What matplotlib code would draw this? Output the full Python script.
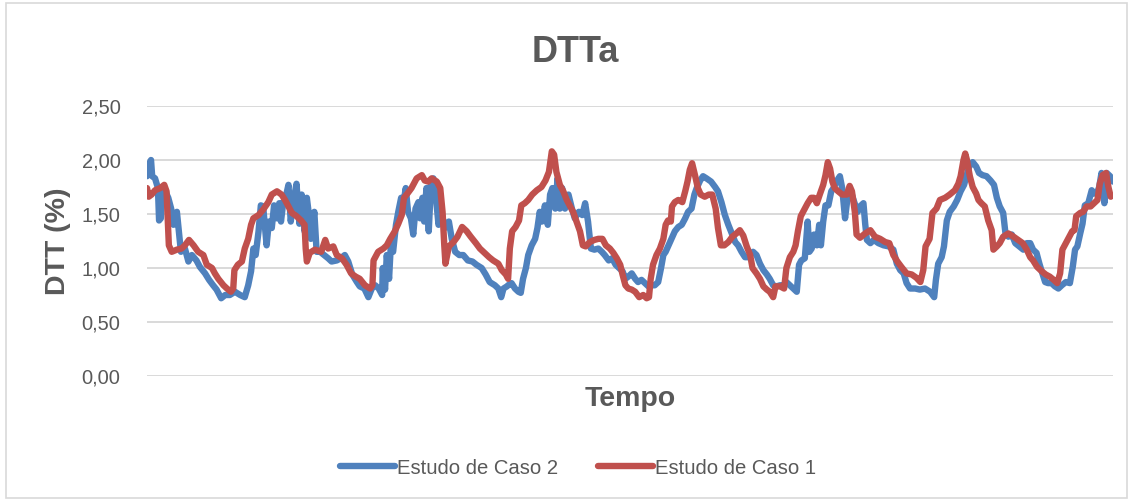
import matplotlib
matplotlib.use("Agg")
import matplotlib.pyplot as plt
from matplotlib.patches import Rectangle

# ---------------- data (time in hours, DTT in %) ----------------
t_caso2 = [0.0, 0.3, 0.7, 0.9, 1.4, 1.9, 2.1, 2.4, 2.7, 3.1, 3.7, 4.2, 4.6, 5.2, 5.6, 5.9,
           6.6, 7.2, 7.8, 8.6, 9.2, 10.1, 10.8, 11.5, 12.1, 12.9, 13.6, 14.4, 15.3, 16.2, 17.0,
           17.6, 18.1, 18.5, 18.9, 19.4, 19.8, 20.2, 20.8, 21.2, 21.7, 22.1, 22.6, 23.0, 23.3,
           23.7, 24.1, 24.6, 25.0, 25.4, 26.0, 26.5, 26.9, 27.4, 27.8, 28.1, 28.5, 29.1, 29.5,
           30.1, 30.8, 31.5, 32.1, 33.0, 33.7, 34.4, 35.0, 35.7, 36.5, 37.0, 37.8, 38.5, 39.1,
           39.7, 40.3, 40.9, 41.0, 41.4, 41.7, 42.1, 42.4, 42.8, 43.3, 43.7, 44.2, 44.6, 45.0,
           45.4, 45.9, 46.3, 46.7, 47.2, 47.5, 47.9, 48.2, 48.6, 49.0, 49.4, 49.8, 50.2, 50.7,
           51.2, 51.8, 52.5, 53.0, 53.6, 54.3, 55.0, 55.8, 56.6, 57.3, 58.2, 58.9, 59.6, 60.5,
           61.1, 61.6, 62.0, 62.6, 62.8, 63.4, 64.0, 64.6, 65.0, 65.4, 65.9, 66.3, 66.9, 67.5,
           67.9, 68.3, 68.7, 69.2, 69.7, 70.1, 70.5, 71.0, 71.4, 71.8, 72.2, 72.7, 73.3, 73.9,
           74.4, 75.1, 75.7, 76.2, 76.7, 77.2, 77.8, 78.5, 79.1, 79.6, 80.3, 80.9, 81.5, 82.1,
           82.7, 83.2, 83.7, 84.3, 84.9, 85.4, 86.0, 86.6, 87.2, 87.8, 88.3, 88.9, 89.4, 89.8,
           90.2, 90.7, 91.2, 91.8, 92.4, 93.0, 93.6, 94.1, 94.7, 95.2, 95.6, 96.2, 96.7, 97.3,
           98.1, 98.8, 99.3, 99.9, 100.5, 101.1, 101.7, 102.3, 102.8, 103.4, 104.0, 104.6, 105.4,
           106.0, 106.6, 107.2, 107.8, 108.3, 108.9, 109.5, 110.1, 110.7, 111.2, 111.8, 112.4,
           113.0, 113.4, 113.8, 114.4, 114.9, 115.2, 115.6, 116.0, 116.5, 116.9, 117.2, 117.6,
           118.0, 118.5, 119.0, 119.4, 119.9, 120.5, 120.9, 121.4, 121.9, 122.4, 123.0, 123.6,
           124.0, 124.6, 124.9, 125.2, 125.8, 126.4, 127.2, 128.1, 129.0, 129.8, 130.4, 131.0,
           131.6, 132.1, 132.7, 133.6, 134.4, 135.3, 136.2, 136.9, 137.2, 137.6, 138.2, 138.6,
           139.1, 139.6, 140.3, 140.9, 141.5, 142.1, 142.5, 143.0, 143.6, 144.2, 144.7, 145.3,
           146.0, 146.7, 147.3, 147.8, 148.3, 148.9, 149.3, 149.8, 150.4, 151.0, 151.7, 152.4,
           153.0, 153.6, 154.1, 154.7, 155.2, 155.6, 156.2, 156.7, 157.3, 157.9, 158.5, 159.1,
           159.8, 160.5, 161.0, 161.4, 161.8, 162.3, 162.7, 163.1, 163.7, 164.3, 164.7, 165.2,
           165.6, 166.0, 166.5, 166.9, 167.5, 168.0]
dtt_caso2 = [1.85, 1.95, 2.00, 1.85, 1.83, 1.74, 1.44, 1.46, 1.71, 1.72, 1.65, 1.55, 1.40, 1.52, 1.31, 1.15,
             1.18, 1.06, 1.12, 1.07, 1.01, 0.95, 0.89, 0.84, 0.80, 0.72, 0.75, 0.75, 0.78, 0.75, 0.73,
             0.84, 0.97, 1.18, 1.12, 1.34, 1.58, 1.57, 1.21, 1.43, 1.37, 1.58, 1.46, 1.60, 1.43,
             1.61, 1.65, 1.77, 1.43, 1.60, 1.78, 1.41, 1.68, 1.34, 1.65, 1.52, 1.27, 1.52, 1.15,
             1.15, 1.12, 1.09, 1.06, 1.07, 1.09, 1.12, 1.06, 0.94, 0.87, 0.83, 0.81, 0.73, 0.81,
             0.84, 0.81, 0.75, 1.00, 0.80, 1.12, 0.90, 1.21, 1.15, 1.40, 1.52, 1.65, 1.60, 1.74,
             1.52, 1.46, 1.31, 1.55, 1.61, 1.46, 1.65, 1.43, 1.74, 1.34, 1.80, 1.83, 1.68, 1.40,
             1.52, 1.37, 1.43, 1.27, 1.15, 1.12, 1.12, 1.07, 1.06, 1.03, 1.00, 0.94, 0.87, 0.84,
             0.81, 0.73, 0.81, 0.83, 0.84, 0.86, 0.81, 0.78, 0.77, 0.90, 1.00, 1.12, 1.21, 1.27,
             1.37, 1.52, 1.43, 1.58, 1.40, 1.68, 1.74, 1.55, 1.83, 1.55, 1.74, 1.55, 1.68, 1.55,
             1.46, 1.52, 1.49, 1.60, 1.43, 1.18, 1.17, 1.18, 1.15, 1.12, 1.07, 1.09, 1.03, 1.00,
             0.97, 0.90, 0.92, 0.95, 0.90, 0.87, 0.89, 0.86, 0.83, 0.84, 0.84, 0.87, 1.00, 1.12,
             1.15, 1.21, 1.27, 1.34, 1.38, 1.40, 1.46, 1.52, 1.55, 1.68, 1.74, 1.81, 1.85, 1.83,
             1.80, 1.75, 1.71, 1.61, 1.49, 1.40, 1.32, 1.24, 1.21, 1.15, 1.10, 1.10, 1.15,
             1.12, 1.04, 0.98, 0.94, 0.90, 0.84, 0.83, 0.84, 0.84, 0.87, 0.84, 0.81,
             0.78, 1.03, 1.07, 1.09, 1.43, 1.15, 1.18, 1.31, 1.21, 1.40, 1.21, 1.43,
             1.58, 1.58, 1.71, 1.74, 1.80, 1.85, 1.74, 1.46, 1.68, 1.71, 1.61, 1.52,
             1.57, 1.60, 1.41, 1.26, 1.23, 1.26, 1.23, 1.21, 1.20, 1.17, 1.04, 0.98,
             0.95, 0.86, 0.81, 0.81, 0.80, 0.81, 0.78, 0.73, 0.89, 1.04, 1.10, 1.20,
             1.44, 1.52, 1.57, 1.63, 1.71, 1.77, 1.85, 1.94, 1.98, 1.94, 1.88, 1.86,
             1.85, 1.81, 1.77, 1.65, 1.57, 1.51, 1.32, 1.29, 1.31, 1.23, 1.20, 1.17,
             1.23, 1.23, 1.17, 1.14, 1.04, 0.97, 0.87, 0.86, 0.86, 0.83, 0.81, 0.84,
             0.87, 0.86, 1.01, 1.17, 1.20, 1.32, 1.41, 1.58, 1.60, 1.72, 1.69, 1.69,
             1.75, 1.88, 1.60, 1.88, 1.85, 1.80]

t_caso1 = [0.0, 0.3, 0.8, 1.4, 2.3, 3.0, 3.4, 3.8, 4.3, 5.2, 6.0, 6.6, 7.3, 8.1, 8.9, 9.8,
           10.4, 11.3, 11.8, 12.4, 13.3, 13.9, 14.6, 15.0, 15.2, 15.8, 16.5, 17.0, 17.6, 18.1,
           18.5, 19.4, 20.2, 21.1, 21.7, 22.6, 23.4, 24.0, 24.6, 25.2, 26.0, 26.8, 27.4, 27.6,
           27.8, 28.3, 29.2, 30.3, 31.0, 31.5, 32.4, 33.0, 33.9, 34.7, 35.5, 36.3, 37.0, 37.9,
           38.8, 39.2, 39.4, 40.2, 41.1, 41.7, 42.3, 43.1, 43.7, 44.3, 44.7, 45.3, 46.0, 46.9,
           47.8, 48.3, 48.9, 49.5, 50.4, 51.0, 51.4, 51.7, 51.9, 52.5, 53.3, 54.0, 54.8, 55.6,
           56.3, 57.2, 57.9, 58.7, 59.5, 60.2, 61.1, 61.7, 62.4, 62.8, 63.1, 63.5, 64.1, 64.7,
           65.1, 65.7, 66.3, 67.0, 67.8, 68.6, 69.3, 69.9, 70.4, 70.8, 71.2, 71.8, 72.4, 73.0,
           73.6, 74.1, 74.7, 75.3, 75.8, 76.3, 77.0, 77.8, 78.5, 79.2, 79.8, 80.5, 81.1, 81.7,
           82.3, 82.7, 83.2, 83.7, 84.3, 84.9, 85.6, 86.3, 86.9, 87.3, 87.6, 88.0, 88.6, 89.2,
           89.8, 90.2, 90.6, 91.1, 91.3, 91.8, 92.4, 93.1, 93.6, 94.0, 94.4, 94.8, 95.3, 95.8,
           96.3, 97.0, 97.7, 98.3, 98.9, 99.3, 99.8, 100.4, 101.1, 101.8, 102.5, 103.1, 103.7,
           104.3, 104.9, 105.3, 106.0, 106.6, 107.2, 107.8, 108.3, 108.9, 109.3, 110.1, 110.8,
           111.2, 111.8, 112.4, 112.8, 113.2, 113.7, 114.3, 114.9, 115.5, 116.0, 116.5, 117.0,
           117.6, 118.0, 118.4, 118.8, 119.2, 119.6, 120.2, 120.9, 121.7, 122.2, 122.6, 123.1,
           123.4, 124.0, 124.9, 125.8, 126.6, 127.5, 128.4, 129.1, 129.8, 130.5, 131.2, 132.1,
           133.0, 133.8, 134.5, 135.0, 135.4, 136.1, 136.6, 137.3, 137.9, 138.8, 139.6, 140.5,
           141.1, 141.5, 142.0, 142.3, 142.6, 143.1, 143.6, 144.2, 144.6, 145.1, 145.7, 146.3,
           146.9, 147.2, 147.8, 148.3, 148.9, 149.8, 150.7, 151.5, 152.3, 153.0, 153.6, 154.1,
           154.8, 155.6, 156.3, 157.0, 157.7, 158.3, 158.8, 159.2, 159.8, 160.4, 160.9, 161.3,
           161.6, 162.3, 162.8, 163.4, 164.1, 164.7, 165.3, 165.7, 166.2, 166.8, 167.2, 167.6]
dtt_caso1 = [1.74, 1.66, 1.68, 1.72, 1.74, 1.77, 1.71, 1.21, 1.15, 1.17, 1.18, 1.21, 1.26, 1.21, 1.15, 1.12,
             1.03, 1.00, 0.95, 0.90, 0.84, 0.81, 0.78, 0.81, 0.98, 1.03, 1.06, 1.18, 1.27, 1.40,
             1.46, 1.49, 1.54, 1.61, 1.68, 1.71, 1.68, 1.63, 1.57, 1.51, 1.48, 1.44, 1.40, 1.18,
             1.06, 1.14, 1.17, 1.15, 1.26, 1.18, 1.20, 1.12, 1.09, 1.03, 0.95, 0.92, 0.90, 0.84,
             0.81, 0.84, 1.07, 1.15, 1.18, 1.21, 1.27, 1.34, 1.41, 1.49, 1.65, 1.69, 1.74, 1.83,
             1.86, 1.81, 1.80, 1.83, 1.80, 1.74, 1.52, 1.21, 1.04, 1.20, 1.24, 1.29, 1.38, 1.34,
             1.29, 1.23, 1.18, 1.14, 1.10, 1.07, 1.04, 0.98, 0.94, 0.90, 1.18, 1.34, 1.38, 1.44,
             1.58, 1.60, 1.63, 1.68, 1.72, 1.75, 1.81, 1.89, 2.08, 2.05, 1.89, 1.77, 1.71, 1.63,
             1.57, 1.52, 1.43, 1.34, 1.21, 1.20, 1.24, 1.26, 1.27, 1.27, 1.21, 1.18, 1.14, 1.09,
             1.03, 0.94, 0.84, 0.81, 0.80, 0.78, 0.73, 0.75, 0.72, 0.73, 0.90, 1.03, 1.12, 1.18,
             1.27, 1.40, 1.44, 1.43, 1.57, 1.61, 1.63, 1.61, 1.71, 1.80, 1.91, 1.97, 1.86, 1.74,
             1.68, 1.66, 1.68, 1.68, 1.55, 1.37, 1.21, 1.21, 1.24, 1.29, 1.32, 1.35, 1.30,
             1.20, 1.12, 1.00, 0.95, 0.90, 0.83, 0.80, 0.78, 0.73, 0.83, 0.83, 0.81,
             1.00, 1.10, 1.15, 1.21, 1.34, 1.48, 1.54, 1.60, 1.65, 1.65, 1.60, 1.68,
             1.77, 1.86, 1.98, 1.92, 1.80, 1.74, 1.71, 1.68, 1.68, 1.76, 1.71, 1.52,
             1.31, 1.28, 1.32, 1.35, 1.29, 1.27, 1.24, 1.23, 1.12, 1.06, 1.01, 0.95,
             0.94, 0.91, 0.87, 0.98, 1.20, 1.27, 1.51, 1.55, 1.63, 1.65, 1.68, 1.72,
             1.78, 1.85, 2.00, 2.06, 2.00, 1.85, 1.75, 1.69, 1.63, 1.60, 1.57, 1.44,
             1.35, 1.17, 1.20, 1.23, 1.29, 1.32, 1.29, 1.26, 1.23, 1.17, 1.10, 1.07,
             1.01, 0.97, 0.94, 0.92, 0.89, 0.86, 0.95, 1.17, 1.23, 1.29, 1.34, 1.35,
             1.48, 1.51, 1.52, 1.57, 1.57, 1.60, 1.63, 1.78, 1.86, 1.88, 1.75, 1.66]

y_ticks = [0.0, 0.5, 1.0, 1.5, 2.0, 2.5]
y_tick_labels = ["0,00", "0,50", "1,00", "1,50", "2,00", "2,50"]
series_names = ["Estudo de Caso 2", "Estudo de Caso 1"]
title_text = "DTTa"
x_label = "Tempo"
y_label = "DTT (%)"

# ---------------- style ----------------
BLUE = "#4F81BD"
RED = "#C0504D"
TXT = "#595959"
GRID = "#D9D9D9"
FONT = ["Liberation Sans", "DejaVu Sans"]
plt.rcParams["font.family"] = FONT

W, H = 1131, 500
fig = plt.figure(figsize=(W / 100, H / 100), dpi=100)
fig.patch.set_facecolor("white")
fig.patches.append(Rectangle((6 / W, 2 / H), (W - 10) / W, (H - 5) / H,
                             transform=fig.transFigure, fill=False,
                             edgecolor=GRID, linewidth=1.2))

ax = fig.add_axes([147 / W, (H - 376) / H, 966 / W, 270 / H])
l2, = ax.plot(t_caso2, dtt_caso2, color=BLUE, lw=4.6, solid_joinstyle="round",
              solid_capstyle="round", zorder=3)
l1, = ax.plot(t_caso1, dtt_caso1, color=RED, lw=4.6, solid_joinstyle="round",
              solid_capstyle="round", zorder=4)

ax.set_xlim(0, 168)
ax.set_ylim(0, 2.5)
ax.set_yticks(y_ticks)
ax.set_yticklabels(y_tick_labels)
ax.set_xticks([])
ax.tick_params(axis="y", length=0, pad=19, labelsize=14.5, labelcolor=TXT)
for s in ax.spines.values():
    s.set_visible(False)
ax.grid(axis="y", color=GRID, linewidth=1.4, zorder=0)
ax.set_axisbelow(True)

fig.text(575 / W, 1 - 53 / H, title_text, ha="center", va="center",
         fontsize=26, fontweight="bold", color=TXT)
fig.text(630 / W, 1 - 399 / H, x_label, ha="center", va="center",
         fontsize=20.5, fontweight="bold", color=TXT)
fig.text(58 / W, 1 - 241 / H, y_label, ha="center", va="center", rotation=90,
         fontsize=20.5, fontweight="bold", color=TXT)

fig.legend([l2, l1], series_names, loc="center", bbox_to_anchor=(578 / W, 1 - 468 / H),
           ncol=2, frameon=False, fontsize=14.6, labelcolor=TXT, handlelength=2.7,
           handletextpad=0.1, columnspacing=2.0)

fig.savefig("out.png", dpi=100, facecolor="white")
